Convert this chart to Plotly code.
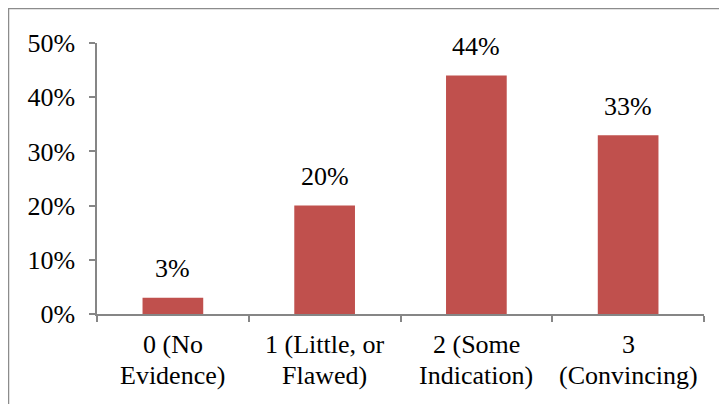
import plotly.graph_objects as go

categories = ["0 (No\nEvidence)", "1 (Little, or\nFlawed)", "2 (Some\nIndication)", "3\n(Convincing)"]
values = [0.03, 0.20, 0.44, 0.33]
labels = ["3%", "20%", "44%", "33%"]
tick_vals = [0, 0.1, 0.2, 0.3, 0.4, 0.5]
tick_text = ["0%", "10%", "20%", "30%", "40%", "50%"]

W, H = 727, 404
OFF = 8  # page body margin
L, T = 97 - OFF, 43 - OFF
R = W - (704 - OFF)
B = H - (314 - OFF)
pw, ph = W - L - R, H - T - B

def px(x):
    return (x - OFF - L) / pw

def py(y):
    return (H - B - (y - OFF)) / ph

FONT_FAMILY = "Liberation Serif, Times New Roman, serif"
font = dict(family=FONT_FAMILY, size=26, color="black")

fig = go.Figure(go.Bar(
    x=categories, y=values,
    marker=dict(color="#C0504D", line=dict(width=0)),
    hoverinfo="skip",
))

annotations = []
for c, v, t in zip(categories, values, labels):
    annotations.append(dict(x=c, y=v, xref="x", yref="y", text=t, showarrow=False,
                            yanchor="middle", yshift=29, font=font))
    for i, line in enumerate(c.split("\n")):
        annotations.append(dict(x=c, y=0, xref="x", yref="y", text=line, showarrow=False,
                                yanchor="middle", yshift=-30 - 31 * i, font=font))

fig.update_layout(
    width=W, height=H,
    margin=dict(l=L, r=R, t=T, b=B, pad=0),
    paper_bgcolor="white", plot_bgcolor="white",
    font=font, bargap=0.6, showlegend=False,
    xaxis=dict(showline=True, linecolor="#868686", linewidth=1.5,
               ticks="outside", ticklen=6, tickcolor="#868686", tickwidth=1.5,
               tickson="boundaries", showgrid=False, showticklabels=False),
    yaxis=dict(range=[0, 0.5], tickvals=tick_vals, ticktext=tick_text,
               showline=True, linecolor="#868686", linewidth=1.5,
               ticks="outside", ticklen=6, tickcolor="#868686", tickwidth=1.5,
               showgrid=False, zeroline=False, tickfont=font, ticklabelstandoff=9),
    annotations=annotations,
    shapes=[
        dict(type="line", xref="paper", yref="paper", x0=px(8.5), x1=px(8.5), y0=py(8), y1=py(420),
             line=dict(color="#8c8c8c", width=1.5)),
        dict(type="line", xref="paper", yref="paper", x0=px(8), x1=px(760), y0=py(8.5), y1=py(8.5),
             line=dict(color="#8c8c8c", width=1.5)),
    ],
)

fig.write_html("out.html")
